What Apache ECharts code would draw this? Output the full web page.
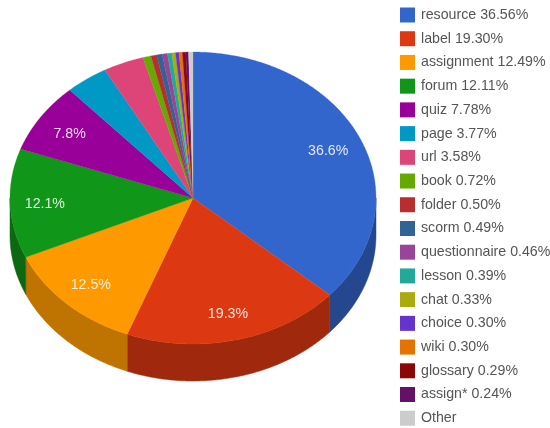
<!DOCTYPE html>
<html>
<head>
<meta charset="utf-8">
<style>
  html, body { margin: 0; padding: 0; background: #fff; }
  #main { width: 550px; height: 428px; }
</style>
<script src="https://cdn.jsdelivr.net/npm/echarts@6/dist/echarts.min.js"></script>
</head>
<body>
<div id="main"></div>
<script>
var categories = ['resource', 'label', 'assignment', 'forum', 'quiz', 'page', 'url', 'book', 'folder', 'scorm', 'questionnaire', 'lesson', 'chat', 'choice', 'wiki', 'glossary', 'assign*', 'Other']
var percents = [36.56, 19.30, 12.49, 12.11, 7.78, 3.77, 3.58, 0.72, 0.50, 0.49, 0.46, 0.39, 0.33, 0.30, 0.30, 0.29, 0.24, 0.39]
var colors = ['#3366cc', '#dc3912', '#ff9900', '#109618', '#990099', '#0099c6', '#dd4477', '#66aa00', '#b82e2e', '#316395', '#994499', '#22aa99', '#aaaa11', '#6633cc', '#e67300', '#8b0707', '#651067', '#cccccc']
var sideColors = ['#24478f', '#a0290d', '#bf7300', '#0b6911', '#6b006b', '#006b8b', '#9b3053', '#477700', '#812020', '#224568', '#6b306b', '#187768', '#77770c', '#47248f', '#a15000', '#610505', '#470b48', '#8f8f8f']

// 3d pie geometry
var cx = 193
var cy = 198
var rx = 183
var ry = 146
var depth = 37
var labelMin = 5 // slices under this get no label

function pt(deg, dy) {
  var a = deg * Math.PI / 180
  return [cx + rx * Math.sin(a), cy - ry * Math.cos(a) + (dy || 0)]
}

function arc(from, to, dy) {
  var pts = []
  var n = Math.max(2, Math.ceil((to - from) * 2))
  for (var i = 0; i <= n; i++) {
    pts.push(pt(from + (to - from) * i / n, dy))
  }
  return pts
}

var total = percents.reduce(function(s, v) { return s + v }, 0)
var startAngles = []
var sum = 0
percents.forEach(function(v) {
  startAngles.push(sum / total * 360)
  sum += v
})

function renderSlice(idx) {
  return function(params, api) {
    var value = api.value(0)
    var from = startAngles[idx]
    var to = from + value / total * 360
    var children = []
    // side wall, only the front half of the rim shows
    var sFrom = Math.max(from, 90)
    var sTo = Math.min(to, 270)
    if (sTo > sFrom) {
      children.push({
        type: 'polygon',
        shape: { points: arc(sFrom, sTo, 0).concat(arc(sFrom, sTo, depth).reverse()) },
        style: { fill: sideColors[idx], stroke: sideColors[idx], lineWidth: 0.5 }
      })
    }
    children.push({
      type: 'polygon',
      shape: { points: [[cx, cy]].concat(arc(from, to, 0)) },
      style: { fill: colors[idx], stroke: colors[idx], lineWidth: 0.3 }
    })
    if (value >= labelMin) {
      var mid = (from + to) / 2 * Math.PI / 180
      children.push({
        type: 'text',
        z2: 10,
        style: {
          text: value.toFixed(1) + '%',
          x: cx + rx * 0.81 * Math.sin(mid),
          y: cy - ry * 0.81 * Math.cos(mid) + 1.5,
          fill: '#fff',
          opacity: 0.85,
          font: '14.2px "Liberation Sans", Arial, sans-serif',
          align: 'center',
          verticalAlign: 'middle'
        }
      })
    }
    return { type: 'group', children: children }
  }
}

var names = categories.map(function(c, i) {
  return c === 'Other' ? c : c + ' ' + percents[i].toFixed(2) + '%'
})

var myChart = echarts.init(document.getElementById('main'), null, { renderer: 'canvas' })
var option = {
  animation: false,
  backgroundColor: '#fff',
  legend: {
    orient: 'vertical',
    left: 400,
    top: 7.5,
    padding: 0,
    itemWidth: 15,
    itemHeight: 15,
    itemGap: 8.72,
    selectedMode: false,
    icon: 'rect',
    data: names,
    textStyle: {
      color: '#555',
      fontSize: 14.2,
      fontFamily: '"Liberation Sans", Arial, sans-serif',
      padding: [0, 0, 0, 1]
    }
  },
  series: categories.map(function(c, i) {
    return {
      name: names[i],
      type: 'custom',
      coordinateSystem: 'none',
      silent: true,
      itemStyle: { color: colors[i] },
      renderItem: renderSlice(i),
      data: [[percents[i]]]
    }
  })
}
myChart.setOption(option)
</script>
</body>
</html>
